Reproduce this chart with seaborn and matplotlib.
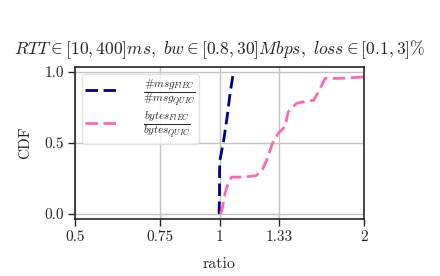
import numpy as np
import pandas as pd
from matplotlib import pyplot as plt
from matplotlib.ticker import FixedLocator, FixedFormatter, NullLocator
from matplotlib.mathtext import MathTextParser
import seaborn as sns

sns.set_style('whitegrid')
plt.rcParams['font.family'] = ['serif']
plt.rcParams['font.serif'] = ['cmr10', 'DejaVu Serif']
plt.rcParams['mathtext.fontset'] = 'cm'
plt.rcParams['axes.unicode_minus'] = False
plt.rcParams['axes.formatter.use_mathtext'] = True

# CDF of #msg ratio (FlEC / QUIC)
msg_ratio = [0.998, 1.0, 1.0, 1.002, 1.018, 1.035, 1.052, 1.068, 1.07]
msg_cdf = [0.0, 0.15, 0.30, 0.38, 0.50, 0.66, 0.85, 0.99, 1.0]

# CDF of bytes ratio (FlEC / QUIC)
bytes_ratio = [1.005, 1.012, 1.027, 1.045, 1.06, 1.12, 1.19, 1.224, 1.254, 1.29,
               1.326, 1.37, 1.39, 1.448, 1.52, 1.57, 1.607, 1.66, 1.78, 2.0, 2.2]
bytes_cdf = [0.0, 0.03, 0.146, 0.23, 0.26, 0.26, 0.27, 0.30, 0.38, 0.50,
             0.57, 0.615, 0.72, 0.78, 0.795, 0.80, 0.86, 0.955, 0.955, 0.965, 0.97]

xticks = [0.5, 0.75, 1, 1.33, 2]
xtick_labels = ['0.5', '0.75', '1', '1.33', '2']
yticks = [0.0, 0.5, 1.0]


def pick_label(candidates):
    # mathtext has no \# in some versions, take the first one that parses
    p = MathTextParser('agg')
    for c in candidates:
        try:
            p.parse(c, 100)
            return c
        except Exception:
            pass
    return candidates[-1]


msg_label = pick_label([r'$\frac{\#msg_{FlEC}}{\#msg_{QUIC}}$',
                        r'$\frac{#msg_{FlEC}}{#msg_{QUIC}}$',
                        r'$\frac{\mathit{\#}msg_{FlEC}}{\mathit{\#}msg_{QUIC}}$',
                        r'$\frac{msg_{FlEC}}{msg_{QUIC}}$'])
bytes_label = r'$\frac{bytes_{FlEC}}{bytes_{QUIC}}$'

fig = plt.figure(figsize=(4.4, 2.76), dpi=100)
ax = fig.add_axes([0.1705, 0.2065, 0.6568, 0.5507])

dash = (0, (4.5, 2))
sns.lineplot(x=msg_ratio, y=msg_cdf, sort=False, estimator=None, ax=ax,
             color='#00008b', lw=2, linestyle=dash, label=msg_label)
sns.lineplot(x=bytes_ratio, y=bytes_cdf, sort=False, estimator=None, ax=ax,
             color='#ff69b4', lw=2, linestyle=dash, label=bytes_label)

ax.set_xscale('log', base=2)
ax.set_xlim(0.5, 2)
ax.set_ylim(-0.035, 1.035)
ax.xaxis.set_major_locator(FixedLocator(xticks))
ax.xaxis.set_major_formatter(FixedFormatter(xtick_labels))
ax.xaxis.set_minor_locator(NullLocator())
ax.set_yticks(yticks)
ax.set_yticklabels(['0.0', '0.5', '1.0'])

ax.grid(True, color='#c4c4c4', lw=1)
for s in ax.spines.values():
    s.set_color('#262626')
    s.set_linewidth(1.2)
ax.tick_params(axis='both', which='major', direction='out', length=5, width=1,
               color='#262626', labelsize=11, labelcolor='#262626',
               bottom=True, left=True, pad=3)

ax.set_xlabel('ratio', fontsize=11.5, color='#262626', labelpad=10)
ax.set_ylabel('CDF', fontsize=11, color='#262626', labelpad=9)
ax.set_title(r'$RTT \in [10,400]ms,\ bw \in [0.8,30]Mbps,\ loss \in [0.1,3]\%$',
             fontsize=12.6, pad=9)

leg = ax.legend(loc='upper left', fontsize=11.5, frameon=True, handlelength=2.2,
                handletextpad=1.4, borderpad=0.2, labelspacing=0.05,
                borderaxespad=0.45)
leg.get_frame().set_edgecolor('#dddddd')

fig.savefig('out.png', dpi=100)
